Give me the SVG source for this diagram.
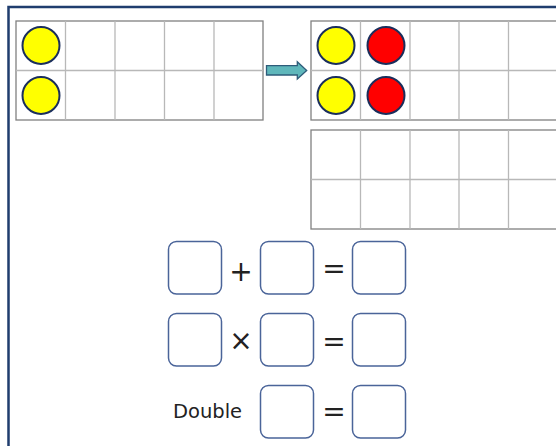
<svg xmlns="http://www.w3.org/2000/svg" width="556" height="446" viewBox="0 0 556 446">
<style>
.frame{fill:#fff;stroke:#808080;stroke-width:1.3}
.grid{stroke:#b8b8b8;stroke-width:1.3}
.y{fill:#ffff00;stroke:#1a2e5c;stroke-width:2}
.r{fill:#ff0000;stroke:#1a2e5c;stroke-width:2}
.box{fill:#fff;stroke:#4a6499;stroke-width:1.5}
.sym{font-family:"DejaVu Sans",sans-serif;font-size:28px;fill:#222;text-anchor:middle}
.lbl{font-family:"DejaVu Sans",sans-serif;font-size:19.5px;fill:#222}
</style>
<rect x="0" y="0" width="556" height="446" fill="#fff"/>
<path d="M8.5 460 V7 H570" fill="none" stroke="#1f3d6e" stroke-width="2.5"/>
<g id="frame-left">
<rect class="frame" x="16" y="21" width="247" height="99"/>
<path class="grid" d="M65.5 21V120M115 21V120M164.5 21V120M214 21V120M16 70.5H263"/>
<circle class="y" cx="41" cy="45.5" r="18.5"/>
<circle class="y" cx="41" cy="95.5" r="18.5"/>
</g>
<g id="connectors">
<path d="M266.5 65.7 H297.3 V61.7 L306.7 70.4 L297.3 79 V75 H266.5 Z" fill="#5fb7bb" stroke="#2e5c7a" stroke-width="1.3"/>
</g>
<g id="frame-right">
<rect class="frame" x="311" y="21" width="260" height="99"/>
<path class="grid" d="M360.5 21V120M410 21V120M459 21V120M508.5 21V120M311 70.5H571"/>
<circle class="y" cx="336" cy="45.5" r="18.5"/>
<circle class="r" cx="386" cy="45.5" r="18.5"/>
<circle class="y" cx="336" cy="95.5" r="18.5"/>
<circle class="r" cx="386" cy="95.5" r="18.5"/>
</g>
<g id="frame-empty">
<rect class="frame" x="311" y="130" width="260" height="99"/>
<path class="grid" d="M360.5 130V229M410 130V229M459 130V229M508.5 130V229M311 179.5H571"/>
</g>
<g id="row-add">
<rect class="box" x="168.5" y="241.5" width="53" height="52.5" rx="8"/>
<text class="sym" x="241" y="281">+</text>
<rect class="box" x="260.5" y="241.5" width="53" height="52.5" rx="8"/>
<text class="sym" x="334" y="278">=</text>
<rect class="box" x="352.5" y="241.5" width="53" height="52.5" rx="8"/>
</g>
<g id="row-mul">
<rect class="box" x="168.5" y="313.5" width="53" height="52.5" rx="8"/>
<text class="sym" x="241" y="350">×</text>
<rect class="box" x="260.5" y="313.5" width="53" height="52.5" rx="8"/>
<text class="sym" x="334" y="351">=</text>
<rect class="box" x="352.5" y="313.5" width="53" height="52.5" rx="8"/>
</g>
<g id="row-double">
<text class="lbl" x="173" y="418">Double</text>
<rect class="box" x="260.5" y="385.5" width="53" height="52.5" rx="8"/>
<text class="sym" x="334" y="421">=</text>
<rect class="box" x="352.5" y="385.5" width="53" height="52.5" rx="8"/>
</g>
</svg>
